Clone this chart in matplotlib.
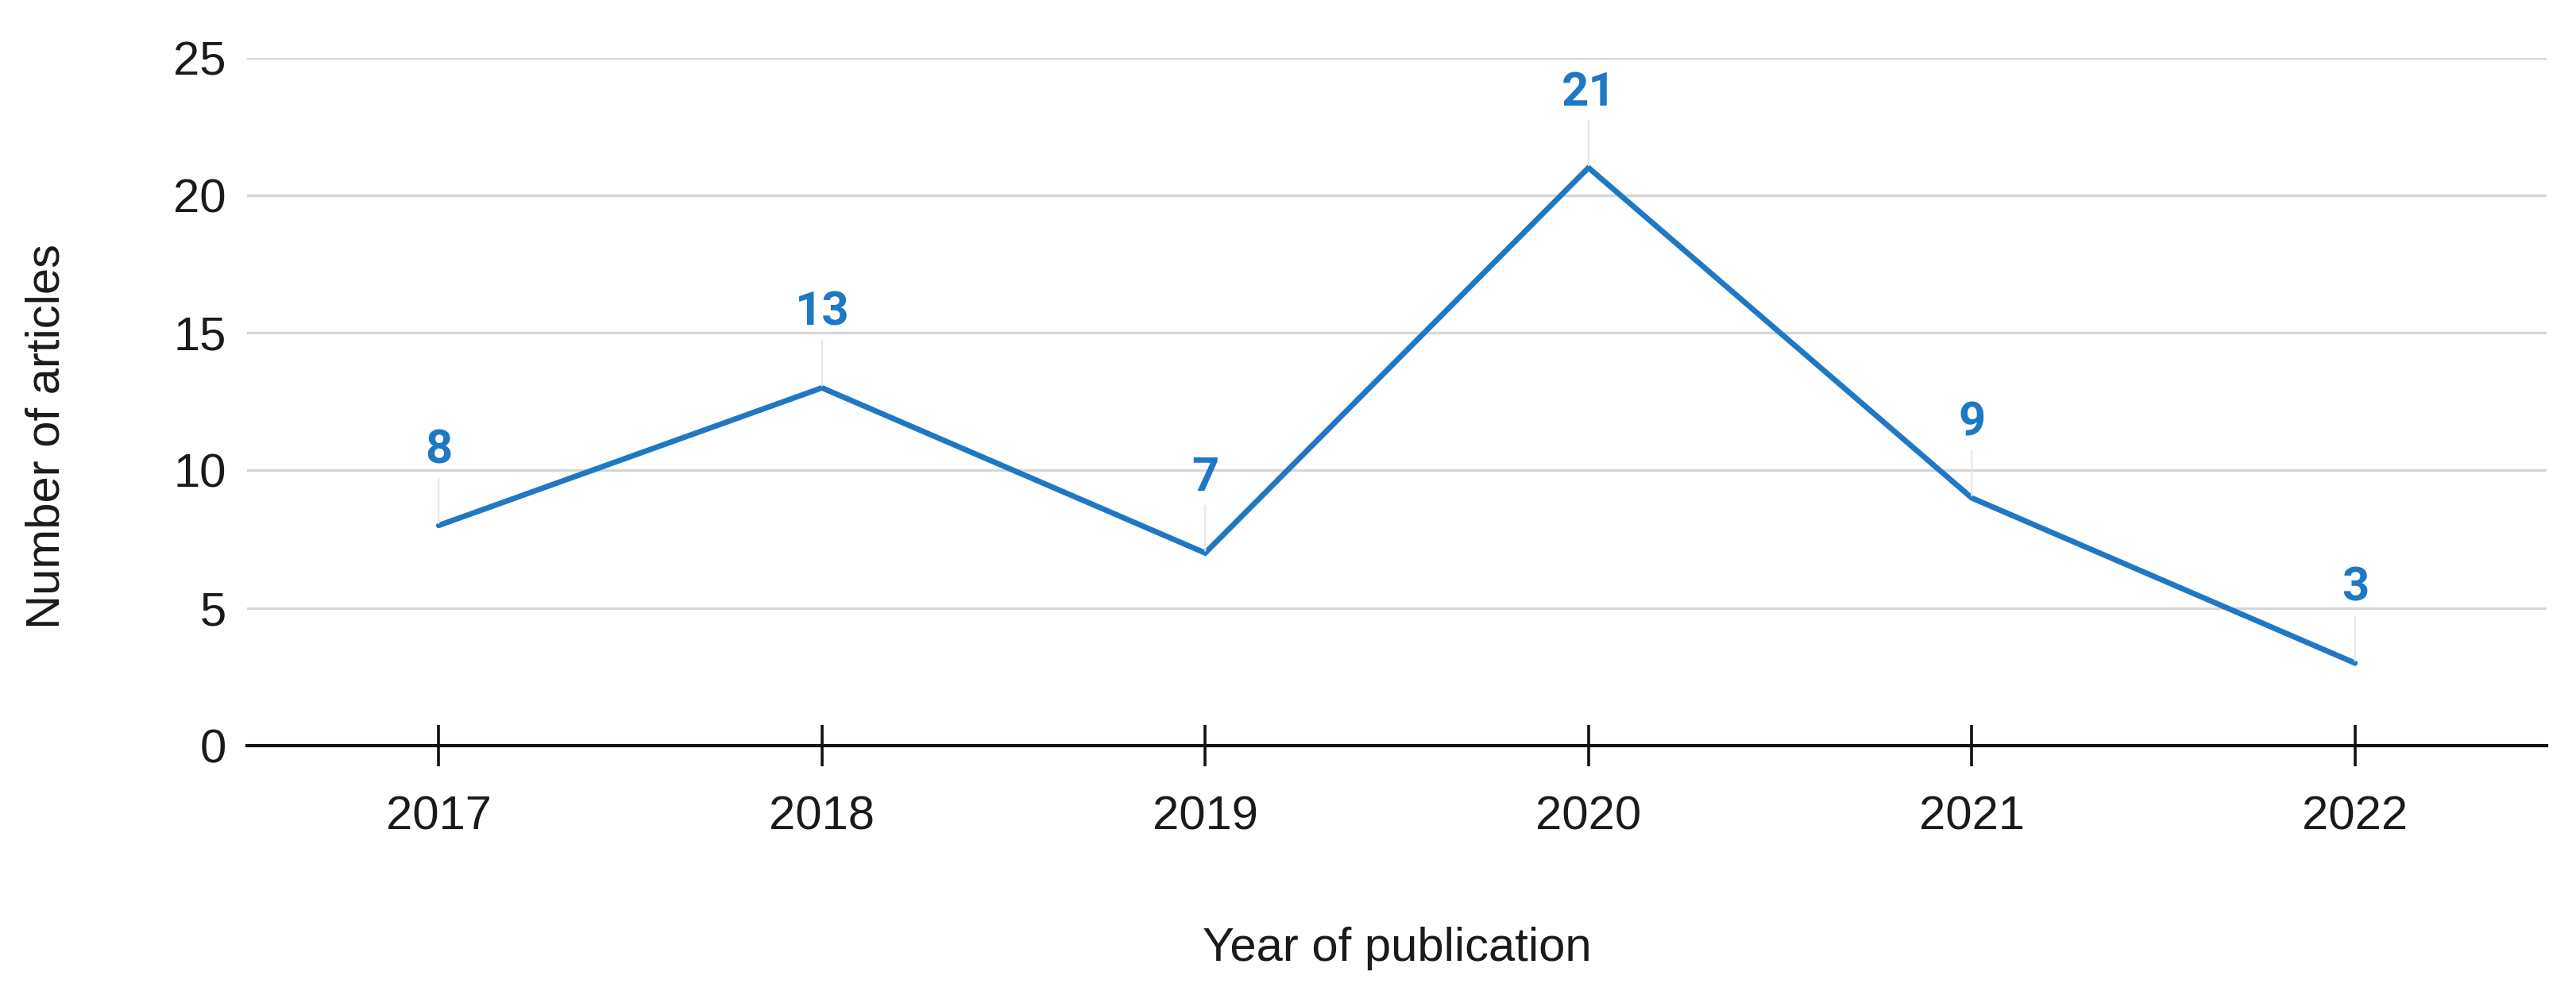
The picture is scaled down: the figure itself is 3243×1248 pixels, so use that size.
import matplotlib
matplotlib.use("Agg")
import matplotlib.pyplot as plt

plt.rcParams["font.family"] = ["Liberation Sans", "DejaVu Sans"]

years = ["2017", "2018", "2019", "2020", "2021", "2022"]
articles = [8, 13, 7, 21, 9, 3]
y_ticks = [0, 5, 10, 15, 20, 25]

LINE_COLOR = "#1f78c4"
GRID_COLOR = "#d6d6d6"
TEXT_COLOR = "#1a1a1a"

fig = plt.figure(figsize=(32.43, 12.48), dpi=100)
ax = fig.add_axes([0.0959, 0.2476, 0.8927, 0.6943])

x = list(range(len(years)))
ax.plot(x, articles, color=LINE_COLOR, linewidth=5, solid_capstyle="round",
        solid_joinstyle="miter", zorder=3)

# value labels with thin leader lines
for xi, v in zip(x, articles):
    ax.annotate(str(v), xy=(xi, v), xytext=(0, 68), textcoords="offset points",
                ha="center", va="center", fontsize=43, fontweight="bold",
                family=["Roboto", "DejaVu Sans"], color=LINE_COLOR, zorder=4,
                arrowprops=dict(arrowstyle="-", color="#e8e8e8", lw=1.6,
                                shrinkA=3, shrinkB=2))

ax.set_xlim(-0.5, 5.5)
ax.set_ylim(0, 25)
ax.set_xticks(x)
ax.set_xticklabels(years)
ax.set_yticks(y_ticks)

ax.grid(axis="y", color=GRID_COLOR, linewidth=2.4, zorder=0)
ax.set_axisbelow(True)

for side in ["left", "right", "top"]:
    ax.spines[side].set_visible(False)
ax.spines["bottom"].set_color("#111111")
ax.spines["bottom"].set_linewidth(3)
ax.spines["bottom"].set_zorder(5)

ax.tick_params(axis="x", direction="inout", length=38, width=2.6, color="#111111",
               labelsize=43, labelcolor=TEXT_COLOR, pad=26)
ax.tick_params(axis="y", length=0, labelsize=43, labelcolor=TEXT_COLOR, pad=19)

ax.set_ylabel("Number of articles", fontsize=43, color=TEXT_COLOR)
ax.yaxis.set_label_coords(-0.0774, 0.449)
ax.set_xlabel("Year of publication", fontsize=43, color=TEXT_COLOR)
ax.xaxis.set_label_coords(0.5, -0.263)

fig.savefig("out.png", dpi=100, facecolor="white")
